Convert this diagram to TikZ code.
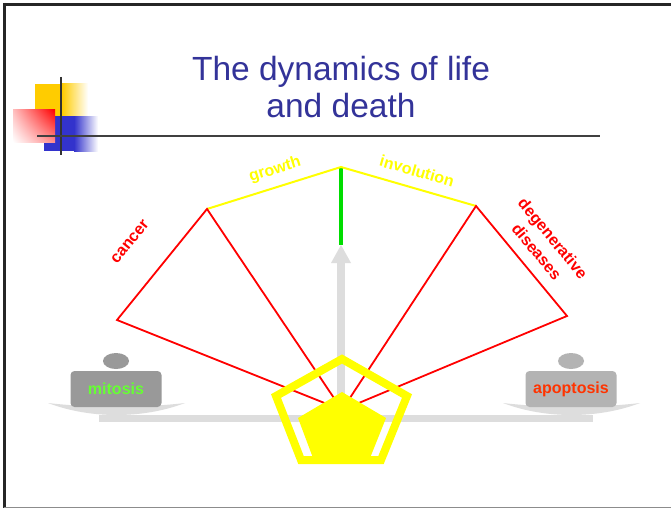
\documentclass[tikz,border=0pt]{standalone}
\usepackage{fontspec}
\setmainfont{Liberation Sans}
\usetikzlibrary{shadings}
\definecolor{titleblue}{HTML}{333399}
\definecolor{barg}{HTML}{DDDDDD}
\definecolor{wleft}{HTML}{999999}
\definecolor{wright}{HTML}{B3B3B3}
\definecolor{mitgreen}{HTML}{66FF33}
\definecolor{apored}{HTML}{FF3300}
\definecolor{decoyellow}{HTML}{FFCC00}
\definecolor{decoblue}{HTML}{3333CC}
\definecolor{fanyellow}{HTML}{FFFF00}
\definecolor{needle}{HTML}{00DD00}
\tikzset{
  fanline/.style={draw=red, line width=1.8pt, line join=miter},
  topline/.style={draw=fanyellow, line width=2pt},
  lbl/.style={font=\fontsize{16}{21}\selectfont\bfseries, inner sep=0pt, align=center},
  weight/.style={fill=#1, rounded corners=4pt},
  dish/.style={fill=barg}
}
\begin{document}
\begin{tikzpicture}[x=1pt,y=-1pt]
\useasboundingbox (0,0) rectangle (671,508);
\fill[white] (0,0) rectangle (671,508);
% frame
\draw[line width=3pt, color=black!85] (3,4.5) -- (671,4.5);
\draw[line width=3pt, color=black!85] (4.5,3) -- (4.5,508);
\draw[line width=1pt, color=black!45] (4,507.5) -- (671,507.5);
% title
\node[color=titleblue, font=\fontsize{33.5}{37}\selectfont, align=center] (title) at (341,87) {The dynamics of life\\and death};
% decoration
\fill[decoyellow] (35,84) rectangle (62,116);
\shade[left color=decoyellow, right color=white] (62,84) rectangle (88,116);
\fill[decoblue] (44,116) rectangle (74,151);
\shade[left color=decoblue, right color=white] (74,116) rectangle (98,151);
\shade[upper right=red, upper left=red!25, lower left=white, lower right=red!45] (13,110) rectangle (55,142);
\draw[line width=1.5pt, color=black!80] (61,77) -- (61,155);
\draw[line width=1.5pt, color=black!75] (37,136) -- (600,136);
% balance bars
\fill[barg] (99,415) rectangle (593,422);
\fill[barg] (337,262) rectangle (345,415);
\fill[barg] (331,263) -- (341,245) -- (351,263) -- cycle;
\draw[line width=4pt, color=needle] (341,167) -- (341,245);
% dishes
\fill[dish] (48,403) .. controls (90,408) and (143,408) .. (185,403) .. controls (143,419) and (90,419) .. (48,403) -- cycle;
\fill[dish] (503,403) .. controls (545,408) and (598,408) .. (640,403) .. controls (598,419) and (545,419) .. (503,403) -- cycle;
% weights
\node[weight=wleft, minimum width=91pt, minimum height=36pt, inner sep=0pt] (mitosis) at (116,389) {};
\fill[wleft] (116,361) ellipse [x radius=13pt, y radius=8pt];
\node[lbl, text=mitgreen] at (mitosis.center) {mitosis};
\node[weight=wright, minimum width=91pt, minimum height=36pt, inner sep=0pt] (apoptosis) at (571,389) {};
\fill[wright] (571,361) ellipse [x radius=13pt, y radius=8pt];
\node[lbl, text=apored] at (apoptosis.center) {apoptosis};
% fan
\coordinate (apex) at (342,410);
\coordinate (cl) at (117,320);
\coordinate (ct) at (207,209);
\coordinate (top) at (341,167);
\coordinate (rt) at (476,206);
\coordinate (rr) at (567,316);
\draw[topline] (ct) -- (top) -- (rt);
\draw[fanline] (apex) -- (cl) -- (ct) -- cycle;
\draw[fanline] (apex) -- (rt) -- (rr) -- cycle;
% labels
\node[lbl, text=fanyellow, rotate=17.4] (growth) at (275,170) {growth};
\node[lbl, text=fanyellow, rotate=-16.1] (involution) at (417,171) {involution};
\node[lbl, text=red, rotate=51] (cancer) at (130,242) {cancer};
\node[lbl, text=red, rotate=-50.4] (degen) at (545,245) {degenerative\\diseases};
% pentagon
\draw[fanyellow, line width=8pt, line join=miter] (342,359) -- (407,396) -- (381,460) -- (301,460) -- (276,396) -- cycle;
\fill[fanyellow] (342,392) -- (386,418) -- (370,458) -- (313,458) -- (298,418) -- cycle;
\end{tikzpicture}
\end{document}
